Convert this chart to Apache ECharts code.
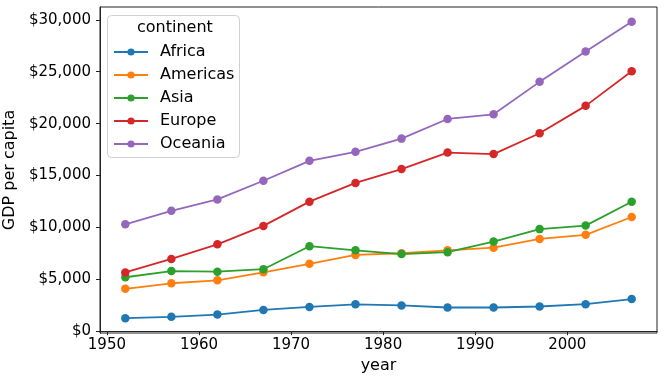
<!DOCTYPE html>
<html><head><meta charset="utf-8">
<script src="https://cdn.jsdelivr.net/npm/echarts@6/dist/echarts.min.js"></script>
<style>html,body{margin:0;padding:0;background:#fff}#c{width:664px;height:381px}</style>
</head><body><div id="c"></div>
<script>
const years = [1952,1957,1962,1967,1972,1977,1982,1987,1992,1997,2002,2007];
const africa = [1252.57,1385.24,1598.08,2050.36,2339.62,2585.94,2481.59,2282.67,2281.81,2378.76,2599.39,3089.03];
const americas = [4079.06,4616.04,4901.54,5668.25,6491.33,7352.01,7506.74,7793.40,8044.93,8889.30,9287.68,11003.03];
const asia = [5195.48,5787.73,5729.37,5971.17,8187.47,7791.31,7434.14,7608.23,8639.69,9834.09,10174.09,12473.03];
const europe = [5661.06,6963.01,8365.49,10143.82,12479.58,14283.98,15617.90,17214.31,17061.57,19076.78,21711.73,25054.48];
const oceania = [10298.09,11598.52,12696.45,14495.02,16417.33,17283.96,18554.71,20448.04,20894.05,24024.18,26938.78,29810.19];
const seriesNames = ['Africa','Americas','Asia','Europe','Oceania'];
const seriesValues = [africa, americas, asia, europe, oceania];
const colors = ['#1f77b4','#ff7f0e','#2ca02c','#d62728','#9467bd'];
const xTicks = [1950,1960,1970,1980,1990,2000];
const yTicks = [0,5000,10000,15000,20000,25000,30000];

const font = 'DejaVu Sans';
const chart = echarts.init(document.getElementById('c'), null, {renderer:'canvas'});
const fmt = v => '$' + Math.round(v).toLocaleString('en-US');
chart.setOption({
  animation: false,
  textStyle: {fontFamily: font},
  grid: {left: 100, right: 7, top: 7, bottom: 48, show: true, borderColor: '#222', borderWidth: 1,
         containLabel: false, outerBoundsMode: 'none'},
  xAxis: {
    type: 'value', min: 1949.25, max: 2009.75,
    name: 'year', nameLocation: 'middle', nameGap: 24,
    nameTextStyle: {fontSize: 16, color: '#000', fontFamily: font},
    axisLine: {show: true, lineStyle: {color: '#222'}},
    axisTick: {show: true, length: 4, lineStyle: {color: '#222'}, customValues: xTicks},
    axisLabel: {fontSize: 15, color: '#000', margin: 5, customValues: xTicks, formatter: v => String(v), fontFamily: font},
    splitLine: {show: false}
  },
  yAxis: {
    type: 'value', min: -176, max: 31238,
    name: 'GDP per capita', nameLocation: 'middle', nameGap: 76,
    nameTextStyle: {fontSize: 16, color: '#000', fontFamily: font},
    axisLine: {show: true, lineStyle: {color: '#222'}},
    axisTick: {show: true, length: 4, lineStyle: {color: '#222'}, customValues: yTicks},
    axisLabel: {fontSize: 15, color: '#000', margin: 9, customValues: yTicks, formatter: fmt, fontFamily: font},
    splitLine: {show: false}
  },
  legend: {
    orient: 'vertical', left: 108, top: 39,
    itemWidth: 34, itemHeight: 9, itemGap: 7,
    data: seriesNames,
    textStyle: {fontSize: 16, color: '#000', fontFamily: font, padding: [0,0,0,7]},
    z: 5
  },
  graphic: [
    {type: 'rect', left: 107, top: 15, z: 4, shape: {width: 132, height: 142, r: 4},
     style: {fill: 'rgba(255,255,255,0.8)', stroke: '#d0d0d0', lineWidth: 1}},
    {type: 'text', left: 137, top: 20, z: 5,
     style: {text: 'continent', fontSize: 16, fill: '#000', fontFamily: font}}
  ],
  series: seriesNames.map((n, i) => ({
    name: n, type: 'line',
    data: years.map((y, j) => [y, seriesValues[i][j]]),
    symbol: 'circle', symbolSize: 8.5,
    itemStyle: {color: colors[i]},
    lineStyle: {color: colors[i], width: 1.8}
  }))
});
</script></body></html>
